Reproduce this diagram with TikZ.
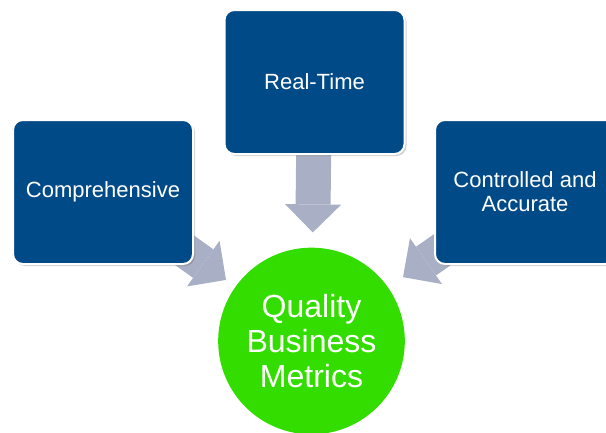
\documentclass[tikz,border=0pt]{standalone}
\usepackage{fontspec}
\setmainfont{Liberation Sans}
\usetikzlibrary{arrows.meta,shadows,backgrounds}
\definecolor{boxblue}{RGB}{0,74,135}
\definecolor{metricgreen}{RGB}{51,221,0}
\definecolor{arrowgrey}{RGB}{169,175,196}
\tikzset{
	topicbox/.style={draw=white, line width=1.5pt, fill=boxblue, rounded corners=7.5pt,
		minimum width=135pt, minimum height=108pt, text=white, align=center,
		font=\fontsize{16.5}{18}\selectfont,
		drop shadow={shadow xshift=1.5pt, shadow yshift=-1.5pt, opacity=0.3, fill=black!60}},
	goalcircle/.style={circle, fill=metricgreen, minimum size=140pt, inner sep=0pt,
		text=white, align=center, font=\fontsize{24}{26.5}\selectfont},
	blockarrow/.style={arrowgrey, line width=26.25pt,
		-{Triangle[length=21pt, width=42pt, line width=0pt]}}
}

\begin{document}
\begin{tikzpicture}[x=0.75pt, y=-0.75pt]
			%%%%% START %%%%%
			\useasboundingbox (0, 0) rectangle (606, 432);
			\clip (0, 0) rectangle (606, 432);
			
			\node[topicbox] (comp) at (103, 192) {Comprehensive};
			\node[topicbox] (real) at (314.5, 82) {Real-Time};
			\node[topicbox] (ctrl) at (525, 192) {Controlled and\\Accurate};
			
			\node[goalcircle] (metrics) at (311.5, 341) {Quality\\Business\\Metrics};
			
			\begin{scope}[on background layer]
				\draw[blockarrow, shorten >=8.6pt] (comp.center) -- (metrics);
				\draw[blockarrow, shorten >=11.25pt] (real.center) -- (metrics);
				\draw[blockarrow, shorten >=13.5pt] (ctrl.center) -- (metrics);
			\end{scope}
			
			%%%%% END %%%%%
\end{tikzpicture}
\end{document}
